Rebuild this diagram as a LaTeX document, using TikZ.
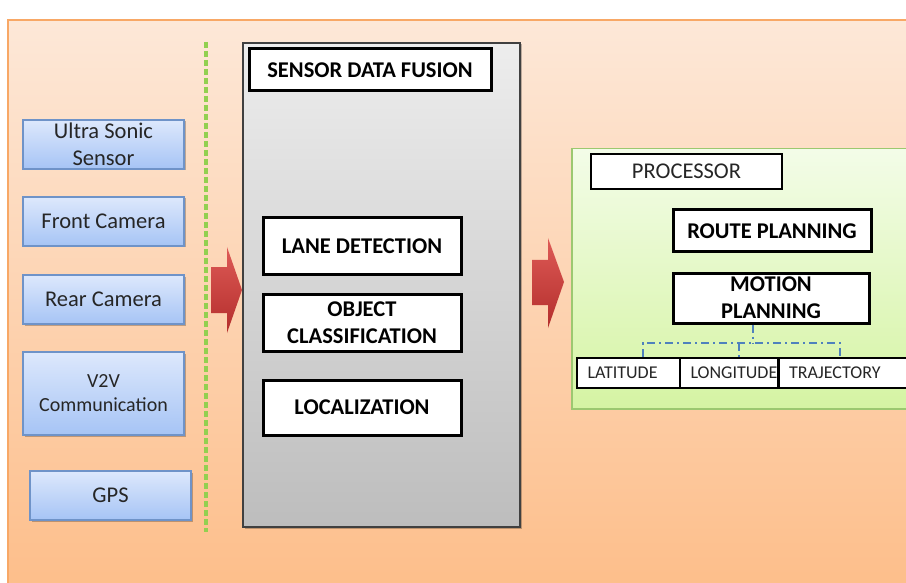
\documentclass[tikz,border=0pt]{standalone}
\usepackage{fontspec}
\setmainfont{Carlito}
\usetikzlibrary{shadows}
\definecolor{bgtop}{HTML}{FDE8D8}
\definecolor{bgbot}{HTML}{FDBE8A}
\definecolor{bgline}{HTML}{F8A866}
\definecolor{bluetop}{HTML}{DDE8FC}
\definecolor{bluebot}{HTML}{A6C4F5}
\definecolor{blueline}{HTML}{6F93C8}
\definecolor{greytop}{HTML}{EDEDED}
\definecolor{greybot}{HTML}{BDBDBD}
\definecolor{greentop}{HTML}{F3FCE8}
\definecolor{greenbot}{HTML}{D5F4A3}
\definecolor{greenline}{HTML}{9CC870}
\definecolor{dashgreen}{HTML}{92D050}
\definecolor{dashblue}{HTML}{4F81BD}
\definecolor{arrtop}{HTML}{DE5A56}
\definecolor{arrbot}{HTML}{B32E2C}
\definecolor{txt}{HTML}{262626}
\tikzset{
  sensorbox/.style={draw=blueline, line width=1.5pt, top color=bluetop, bottom color=bluebot,
    minimum width=161pt, inner sep=0pt, align=center, text=txt,
    font=\fontsize{22.5}{27}\selectfont,
    drop shadow={shadow xshift=1.5pt, shadow yshift=-1.5pt, opacity=0.25, fill=black}},
  boldbox/.style={draw=black, line width=3pt, fill=white, inner sep=0pt, align=center,
    font=\fontsize{22.5}{27}\selectfont\bfseries},
  smallbox/.style={draw=black, line width=2.2pt, fill=white, inner ysep=0pt, inner xsep=10.5pt,
    minimum height=30pt, align=left, font=\fontsize{18}{21}\selectfont, text=txt},
  bigarrow/.style={top color=arrtop, bottom color=arrbot, draw=none},
  dd/.style={draw=dashblue, line width=2.8pt, dash pattern=on 8pt off 4pt on 2pt off 4pt}
}
\begin{document}
\begin{tikzpicture}[x=1pt,y=-1pt]
\useasboundingbox (0,0) rectangle (906,583);
\begin{scope}
\clip (0,0) rectangle (906,583);
\fill[white] (0,0) rectangle (906,583);
% orange background
\shade[top color=bgtop, bottom color=bgbot] (8,20) rectangle (920,590);
\draw[bgline, line width=1.5pt] (8,590) -- (8,20) -- (920,20);
% green dashed separator
\draw[dashgreen, line width=3.4pt, dash pattern=on 6pt off 3pt] (206,42) -- (206,532);
% sensors
\node[sensorbox, minimum height=49pt] (us) at (103.5,144.5) {Ultra Sonic\\Sensor};
\node[sensorbox, minimum height=49pt] (fc) at (103.5,221.5) {Front Camera};
\node[sensorbox, minimum height=49pt] (rc) at (103.5,299.5) {Rear Camera};
\node[sensorbox, minimum height=83pt, font=\fontsize{20}{24}\selectfont] (v2v) at (103.5,393.5) {V2V\\Communication};
\node[sensorbox, minimum height=49pt] (gps) at (110.5,495.5) {GPS};
% sensor data fusion container
\node[draw=black!75, line width=1.6pt, top color=greytop, bottom color=greybot,
  minimum width=277pt, minimum height=484pt, inner sep=0pt,
  drop shadow={shadow xshift=1.5pt, shadow yshift=-1.5pt, opacity=0.25, fill=black}] (fusionbox) at (381.5,285) {};
\node[boldbox, minimum width=242pt, minimum height=42pt] (sdf) at (370,70) {SENSOR DATA FUSION};
\node[boldbox, minimum width=198pt, minimum height=56pt] (lane) at (362,246) {LANE DETECTION};
\node[boldbox, minimum width=198pt, minimum height=57pt] (obj) at (362,322.5) {OBJECT\\CLASSIFICATION};
\node[boldbox, minimum width=198pt, minimum height=55pt] (loc) at (362,407.5) {LOCALIZATION};
% block arrows
\path[bigarrow] (211,267) -- (227,267) -- (227,247) -- (242,290) -- (227,333) -- (227,313) -- (211,313) -- cycle;
\path[bigarrow] (532,260) -- (548,260) -- (548,238) -- (564,282) -- (548,328) -- (548,305) -- (532,305) -- cycle;
% processor container
\node[draw=greenline, line width=1.5pt, top color=greentop, bottom color=greenbot,
  minimum width=340pt, minimum height=260pt, inner sep=0pt, anchor=north west,
  drop shadow={shadow xshift=1.5pt, shadow yshift=-1.5pt, opacity=0.2, fill=black}] (procbox) at (571,148) {};
\node[draw=black, line width=2.6pt, fill=white, minimum width=191pt, minimum height=35pt,
  inner sep=0pt, text=txt, font=\fontsize{22.5}{27}\selectfont] (proc) at (686.5,171.5) {PROCESSOR};
\node[boldbox, minimum width=198pt, minimum height=42pt] (route) at (772,231) {ROUTE PLANNING};
\node[boldbox, minimum width=196pt, minimum height=50pt] (motion) at (771,298) {MOTION\\PLANNING};
\node[smallbox, text width=82pt] (lat) at (628.5,373) {LATITUDE};
\node[smallbox, text width=81pt] (lon) at (731,373) {LONGITUDE};
\node[smallbox, text width=115pt] (traj) at (846.5,373) {TRAJECTORY};
% dash-dot connectors
\coordinate (j) at (753,343);
\coordinate (b1) at (643,343);
\coordinate (b2) at (739,343);
\coordinate (b3) at (840,343);
\draw[dd] (j |- motion.south) -- (j);
\draw[dd] (b1 |- lat.north) -- (b1) -- (b3) -- (b3 |- traj.north);
\draw[dd] (b2) -- (b2 |- lon.north);
\end{scope}
\end{tikzpicture}
\end{document}
